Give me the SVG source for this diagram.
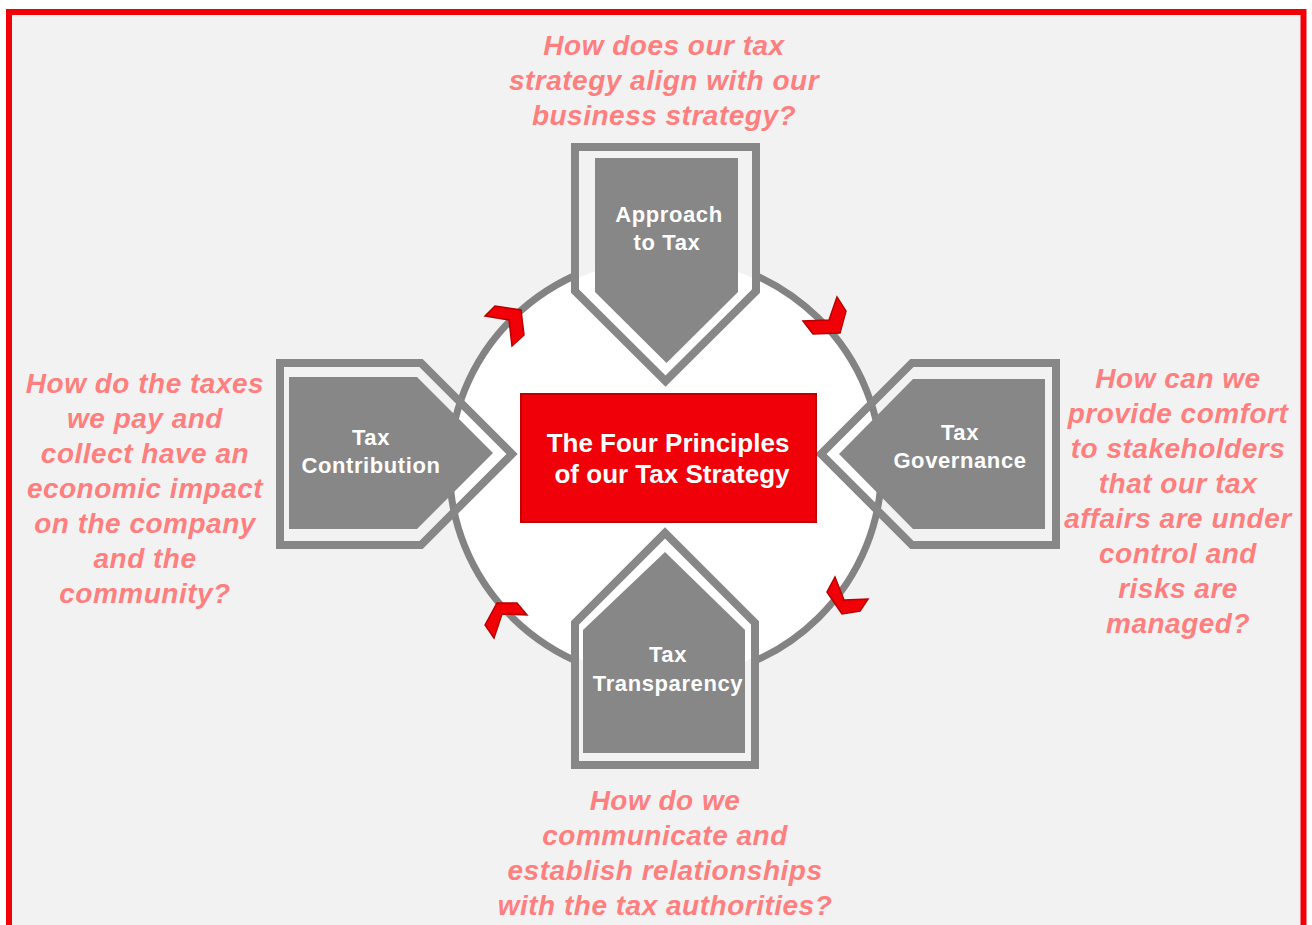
<svg xmlns="http://www.w3.org/2000/svg" width="1312" height="925" viewBox="0 0 1312 925">
  <style>
    .frame { fill: #f2f2f2; stroke: #f20008; stroke-width: 6; }
    .ring { fill: #ffffff; stroke: #838383; stroke-width: 7; }
    .outline { fill: none; stroke: #878787; stroke-width: 8; stroke-linejoin: miter; }
    .gap { fill: #f2f2f2; }
    .inner { fill: #ffffff; }
    .body { fill: #878787; }
    .label { font-family: "Liberation Sans", Arial, sans-serif; font-weight: bold; font-size: 22px; fill: #ffffff; text-anchor: middle; letter-spacing: 0.6px; }
    .core { fill: #f00008; stroke: #c00000; stroke-width: 2; }
    .coretext { font-family: "Liberation Sans", Arial, sans-serif; font-weight: bold; font-size: 26px; fill: #ffffff; text-anchor: middle; }
    .q { font-family: "Liberation Sans", Arial, sans-serif; font-weight: bold; font-style: italic; font-size: 28px; fill: #ff7f7f; text-anchor: middle; letter-spacing: 0.5px; }
    .arrow { fill: #f20008; stroke: #b80000; stroke-width: 1.5; stroke-linejoin: miter; }
  </style>
  <defs>
    <clipPath id="clipTop">
      <path d="M575,147 L756,147 L756,291 L665.5,381 L575,291 Z"/>
    </clipPath>
    <clipPath id="clipBottom">
      <path d="M575,765 L575,623 L665,533 L755,623 L755,765 Z"/>
    </clipPath>
  </defs>
  <rect x="0" y="0" width="1312" height="925" fill="#ffffff"/>
  <rect class="frame" x="9" y="12" width="1294.5" height="1000"/>

  <g id="cycle">
    <ellipse class="ring" cx="665.5" cy="468" rx="216" ry="212"/>
  </g>

  <g id="approach-to-tax">
    <path class="gap" d="M575,147 L756,147 L756,291 L665.5,381 L575,291 Z"/>
    <ellipse class="inner" cx="665.5" cy="468" rx="212.5" ry="208.5" clip-path="url(#clipTop)"/>
    <path class="outline" d="M575,147 L756,147 L756,291 L665.5,381 L575,291 Z"/>
    <path class="body" d="M595,158 L738,158 L738,292 L666.5,363 L595,292 Z"/>
    <text class="label" x="669" y="222">Approach</text>
    <text class="label" x="667" y="250">to Tax</text>
  </g>

  <g id="tax-contribution">
    <path class="outline" d="M280,363 L421,363 L512,454 L421,545 L280,545 Z"/>
    <path class="body" d="M289,377 L417,377 L493,453 L417,529 L289,529 Z"/>
    <text class="label" x="371" y="445">Tax</text>
    <text class="label" x="371" y="473">Contribution</text>
  </g>

  <g id="tax-governance">
    <path class="outline" d="M1056,363 L912,363 L821,454 L912,545 L1056,545 Z"/>
    <path class="body" d="M1045,379 L913,379 L839,454 L913,529 L1045,529 Z"/>
    <text class="label" x="960" y="440">Tax</text>
    <text class="label" x="960" y="468">Governance</text>
  </g>

  <g id="tax-transparency">
    <path class="gap" d="M575,765 L575,623 L665,533 L755,623 L755,765 Z"/>
    <ellipse class="inner" cx="665.5" cy="468" rx="212.5" ry="208.5" clip-path="url(#clipBottom)"/>
    <path class="outline" d="M575,765 L575,623 L665,533 L755,623 L755,765 Z"/>
    <path class="body" d="M583,753 L583,630 L665,552 L745,630 L745,753 Z"/>
    <text class="label" x="668" y="662">Tax</text>
    <text class="label" x="668" y="691">Transparency</text>
  </g>

  <g id="connectors">
    <polygon class="arrow" points="485,316 495,306 521,310 524,335 512,346 509,320"/>
    <polygon class="arrow" points="803,321 813,334 840,333 846,311 837,297 829,320"/>
    <polygon class="arrow" points="827,592 842,614 860,611 868,599 844,600 835,577"/>
    <polygon class="arrow" points="485,625 497,603 517,603 527,615 502,614 494,638"/>
  </g>

  <g id="four-principles">
    <rect class="core" x="521" y="394" width="295" height="128"/>
    <text class="coretext" x="668" y="452">The Four Principles</text>
    <text class="coretext" x="672" y="483">of our Tax Strategy</text>
  </g>

  <g id="question-top">
    <text class="q" x="664" y="55">How does our tax</text>
    <text class="q" x="664" y="90">strategy align with our</text>
    <text class="q" x="664" y="125">business strategy?</text>
  </g>

  <g id="question-left">
    <text class="q" x="145" y="393">How do the taxes</text>
    <text class="q" x="145" y="428">we pay and</text>
    <text class="q" x="145" y="463">collect have an</text>
    <text class="q" x="145" y="498">economic impact</text>
    <text class="q" x="145" y="533">on the company</text>
    <text class="q" x="145" y="568">and the</text>
    <text class="q" x="145" y="603">community?</text>
  </g>

  <g id="question-right">
    <text class="q" x="1178" y="388">How can we</text>
    <text class="q" x="1178" y="423">provide comfort</text>
    <text class="q" x="1178" y="458">to stakeholders</text>
    <text class="q" x="1178" y="493">that our tax</text>
    <text class="q" x="1178" y="528">affairs are under</text>
    <text class="q" x="1178" y="563">control and</text>
    <text class="q" x="1178" y="598">risks are</text>
    <text class="q" x="1178" y="633">managed?</text>
  </g>

  <g id="question-bottom">
    <text class="q" x="665" y="810">How do we</text>
    <text class="q" x="665" y="845">communicate and</text>
    <text class="q" x="665" y="880">establish relationships</text>
    <text class="q" x="665" y="915">with the tax authorities?</text>
  </g>
</svg>
